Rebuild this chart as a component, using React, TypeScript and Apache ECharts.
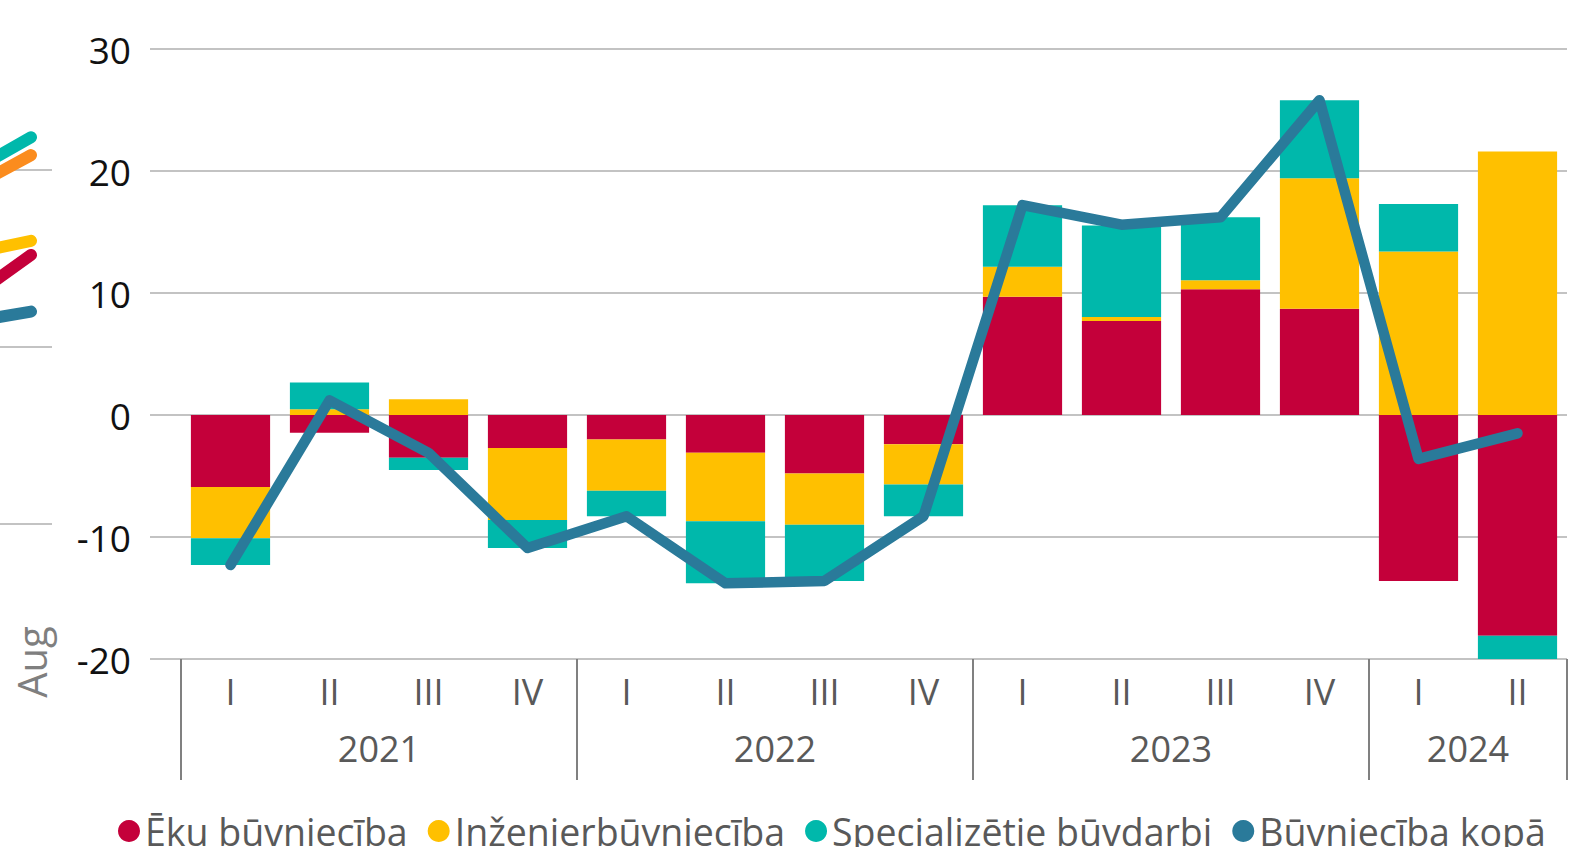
import React, { useEffect, useRef } from "react";
import * as echarts from "echarts";

// ---- main chart data ----
const quarters = ["I", "II", "III", "IV", "I", "II", "III", "IV", "I", "II", "III", "IV", "I", "II"];
const years = ["2021", "2022", "2023", "2024"];
const quartersPerYear = [4, 4, 4, 2];

const ekuBuvnieciba = [-5.9, -1.45, -3.5, -2.7, -2.0, -3.1, -4.8, -2.4, 9.7, 7.7, 10.3, 8.7, -13.6, -18.1];
const inzenierbuvnieciba = [-4.2, 0.47, 1.3, -5.9, -4.2, -5.6, -4.2, -3.3, 2.45, 0.33, 0.75, 10.7, 13.4, 21.6];
const specializetie = [-2.2, 2.2, -1.0, -2.3, -2.1, -5.1, -4.6, -2.6, 5.05, 7.5, 5.15, 6.4, 3.9, -1.9];
const buvniecibaKopa = [-12.3, 1.2, -3.1, -10.9, -8.3, -13.8, -13.6, -8.3, 17.2, 15.6, 16.2, 25.8, -3.6, -1.5];

const yTicks = { min: -20, max: 30, interval: 10 };

// ---- fragment of the neighbouring chart at the left edge ----
const leftCats = ["p1", "p2"];
const leftTeal = [20.5, 21.85];
const leftOrange = [19.55, 20.84];
const leftYellow = [15.5, 16.0];
const leftRed = [13.5, 15.2];
const leftBlue = [11.6, 12.0];

const names = ["Ēku būvniecība", "Inženierbūvniecība", "Specializētie būvdarbi", "Būvniecība kopā"];
const colors = {
  red: "#c4003a",
  yellow: "#ffc000",
  teal: "#00b8ab",
  blue: "#2a7a9a",
  orange: "#fb8c1e",
};

const FONT = "'Open Sans', 'Noto Sans', sans-serif";

export default function App() {
  const ref = useRef<HTMLDivElement>(null);

  useEffect(() => {
    if (!ref.current) return;
    const chart = echarts.init(ref.current, undefined, { renderer: "svg" });

    // year group boundaries and centres, derived from group sizes
    const starts: number[] = [];
    const centres: Record<number, string> = {};
    let acc = 0;
    quartersPerYear.forEach((n, i) => {
      starts.push(acc);
      centres[acc + n / 2] = years[i];
      acc += n;
    });

    const gridColor = "#c3c3c3";
    const sepColor = "#808080";

    const leftLine = (name: string, data: number[], color: string) => ({
      name,
      type: "line",
      xAxisIndex: 3,
      yAxisIndex: 1,
      data,
      symbol: "none",
      clip: false,
      silent: true,
      lineStyle: { color, width: 12, cap: "round", join: "round" },
      z: 3,
    });

    chart.setOption({
      animation: false,
      textStyle: { fontFamily: FONT },
      grid: [
        { left: 181, right: 6, top: 49, bottom: 188, outerBoundsMode: "none", containLabel: false },
        { left: -32, right: 1521, top: -7, bottom: 323, outerBoundsMode: "none", containLabel: false },
      ],
      legend: {
        data: names,
        icon: "circle",
        left: 118,
        top: 812,
        itemWidth: 22,
        itemHeight: 22,
        itemGap: 20,
        padding: 0,
        textStyle: { fontSize: 37.5, color: "#595959", fontFamily: FONT },
      },
      xAxis: [
        {
          type: "category",
          gridIndex: 0,
          data: quarters,
          axisLine: { show: false },
          axisTick: { show: false },
          axisLabel: { fontSize: 36, color: "#595959", margin: 14, interval: 0, fontFamily: FONT },
        },
        {
          type: "category",
          gridIndex: 0,
          data: quarters,
          position: "bottom",
          axisLine: { show: false },
          axisLabel: { show: false },
          axisTick: {
            show: true,
            length: 121,
            interval: (index: number) => starts.includes(index),
            lineStyle: { color: sepColor, width: 2 },
          },
        },
        {
          type: "value",
          gridIndex: 0,
          min: 0,
          max: quarters.length,
          interval: 1,
          position: "bottom",
          axisLine: { show: false },
          axisTick: { show: false },
          splitLine: { show: false },
          axisLabel: {
            fontSize: 36,
            color: "#595959",
            margin: 71,
            fontFamily: FONT,
            showMinLabel: true,
            showMaxLabel: true,
            hideOverlap: false,
            formatter: (v: number) => centres[v] ?? "",
          },
        },
        {
          type: "category",
          gridIndex: 1,
          data: leftCats,
          boundaryGap: true,
          axisLine: { show: false },
          axisTick: { show: false },
          axisLabel: { show: false },
        },
      ],
      yAxis: [
        {
          type: "value",
          gridIndex: 0,
          min: yTicks.min,
          max: yTicks.max,
          interval: yTicks.interval,
          axisLine: { show: false },
          axisTick: { show: true, length: 31, lineStyle: { color: gridColor, width: 2 } },
          axisLabel: { fontSize: 37, color: "#111", margin: 50, fontFamily: FONT },
          splitLine: { lineStyle: { color: gridColor, width: 2 } },
        },
        {
          type: "value",
          gridIndex: 1,
          min: 0,
          max: 30,
          interval: 10,
          axisLine: { show: false },
          axisTick: { show: false },
          axisLabel: { show: false },
          splitLine: { lineStyle: { color: gridColor, width: 2 } },
        },
      ],
      series: [
        {
          name: names[0],
          type: "bar",
          stack: "total",
          data: ekuBuvnieciba,
          itemStyle: { color: colors.red },
          barCategoryGap: "20%",
        },
        {
          name: names[1],
          type: "bar",
          stack: "total",
          data: inzenierbuvnieciba,
          itemStyle: { color: colors.yellow },
          barCategoryGap: "20%",
        },
        {
          name: names[2],
          type: "bar",
          stack: "total",
          data: specializetie,
          itemStyle: { color: colors.teal },
          barCategoryGap: "20%",
        },
        {
          name: names[3],
          type: "line",
          data: buvniecibaKopa,
          symbol: "none",
          itemStyle: { color: colors.blue },
          lineStyle: { color: colors.blue, width: 10.5, cap: "round", join: "round" },
          z: 5,
        },
        leftLine("kreisā_1", leftTeal, colors.teal),
        leftLine("kreisā_2", leftOrange, colors.orange),
        leftLine("kreisā_3", leftYellow, colors.yellow),
        leftLine("kreisā_4", leftRed, colors.red),
        leftLine("kreisā_5", leftBlue, colors.blue),
      ],
      graphic: [
        {
          type: "text",
          x: 31,
          y: 662,
          rotation: Math.PI / 2,
          style: {
            text: "Aug",
            fontSize: 40,
            fontFamily: FONT,
            fill: "#7f7f7f",
            align: "center",
            verticalAlign: "middle",
          },
        },
      ],
    });

    return () => chart.dispose();
  }, []);

  return (
    <div
      ref={ref}
      style={{ position: "fixed", left: 0, top: 0, width: 1573, height: 847, background: "#fff" }}
    />
  );
}
